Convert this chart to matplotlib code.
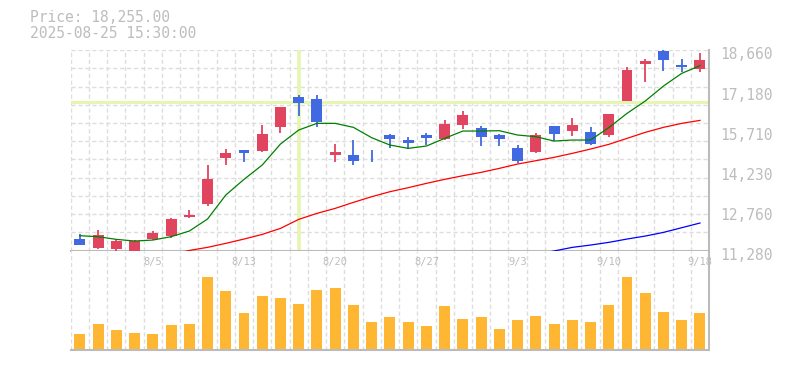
import numpy as np
import matplotlib
matplotlib.use("Agg")
import matplotlib.pyplot as plt
import matplotlib.transforms as mtransforms

# daily OHLC, index 0 = 7/30
opens = [11709, 11390, 11341, 11200, 11709, 11832, 12530, 12996, 14700, 14982,
         14958, 15840, 16931, 16858, 14811, 14798, 14921, 15534, 15350, 15534,
         15387, 15914, 15791, 15534, 15068, 14921, 15865, 15669, 15644, 15546,
         16784, 18157, 18635, 18121, 17973]
highs = [11880, 12040, 11697, 11672, 12003, 12470, 12776, 14431, 15019, 14990,
         15902, 16570, 17005, 17005, 15203, 15350, 14982, 15571, 15448, 15608,
         16086, 16417, 15865, 15571, 15154, 15608, 15870, 16159, 15828, 16310,
         18023, 18329, 18660, 18329, 18562]
lows = [11480, 11341, 11280, 11150, 11672, 11758, 12494, 12935, 14431, 14553,
        14921, 15620, 16245, 15816, 14553, 14443, 14553, 15068, 15007, 15166,
        15350, 15767, 15129, 15129, 14516, 14884, 15326, 15509, 15154, 15473,
        16784, 17495, 17900, 17851, 17851]
closes = [11500, 11856, 11636, 11636, 11942, 12445, 12604, 13916, 14872, 14884,
          15571, 16564, 16723, 16024, 14909, 14590, 14900, 15399, 15252, 15436,
          15939, 16269, 15473, 15399, 14590, 15534, 15558, 15902, 15191, 16306,
          17924, 18255, 18292, 18047, 18292]

ma_short = [11832, 11795, 11697, 11636, 11672, 11795, 12003, 12445, 13327, 13904,
            14431, 15203, 15718, 15963, 15963, 15816, 15436, 15166, 15044, 15129,
            15411, 15681, 15681, 15693, 15534, 15473, 15313, 15350, 15350, 15804,
            16331, 16784, 17336, 17802, 18084]
ma_mid = [np.nan, np.nan, np.nan, np.nan, np.nan, 11130, 11290, 11403, 11550, 11709,
          11880, 12101, 12432, 12653, 12837, 13058, 13266, 13450, 13597, 13756,
          13904, 14038, 14161, 14308, 14467, 14590, 14713, 14860, 15019, 15191,
          15411, 15632, 15816, 15963, 16073]
ma_long = [np.nan] * 25 + [11130, 11270, 11403, 11488, 11587, 11709, 11819, 11954,
                           12126, 12298]

volumes = [16, 26, 20, 17, 16, 25, 26, 73, 59, 37, 54, 52, 46, 60, 62, 45, 28, 33,
           28, 24, 44, 31, 33, 21, 30, 34, 26, 30, 28, 45, 73, 57, 38, 30, 37]

date_labels = {4: "8/5", 9: "8/13", 14: "8/20", 19: "8/27", 24: "9/3",
               29: "9/10", 34: "9/18"}
price_ticks = [11280, 12760, 14230, 15710, 17180, 18660]
cross_x = 12
cross_price = 16735

UP = "#e0445f"
DOWN = "#4169e1"
GRID = "#dddddd"
FRAME = "#bbbbbb"
TXT = "#bdbdbd"
CROSS = "#e6f5b0"
MONO = "DejaVu Sans Mono"

fig = plt.figure(figsize=(7.85, 3.7), dpi=100)
ax = fig.add_axes([0.0901, 0.3224, 0.8132, 0.5424])
axv = fig.add_axes([0.0901, 0.054, 0.8132, 0.2684])

n = len(opens)
x = np.arange(n)

for a in (ax, axv):
    a.set_xlim(-0.5, n - 0.5)
    for xb in np.arange(-0.5, n - 0.5, 1.0):
        a.axvline(xb, color=GRID, lw=1, ls=(0, (3, 2)), zorder=0)
    for s in ("left", "top"):
        a.spines[s].set_visible(False)
    for s in ("right", "bottom"):
        a.spines[s].set_color(FRAME)
        a.spines[s].set_linewidth(1.5)
    a.set_xticks([])

# price panel
ax.set_ylim(11280, 18660)
for yg in np.linspace(11280, 18660, 12):
    ax.axhline(yg, color=GRID, lw=1, ls=(0, (3, 2)), zorder=0)

ax.axvline(cross_x, color=CROSS, lw=2.6, zorder=1)
ax.axhline(cross_price, color=CROSS, lw=2.2, zorder=1)

for i in range(n):
    o, h, l, c = opens[i], highs[i], lows[i], closes[i]
    col = UP if c > o else DOWN
    ax.vlines(i, l, h, color=col, lw=1.3, zorder=3)
    bottom = min(o, c)
    height = max(abs(c - o), 25)
    ax.bar(i, height, bottom=bottom, width=0.6, color=col, zorder=3)

ax.plot(x, ma_short, color="#008000", lw=0.9, zorder=4)
ax.plot(x, ma_mid, color="#ff0000", lw=0.9, zorder=4)
ax.plot(x, ma_long, color="#0000ff", lw=0.9, zorder=4)

ax.yaxis.tick_right()
ax.set_yticks(price_ticks)
ax.set_yticklabels([f"{v:,}" for v in price_ticks])
ax.tick_params(axis="y", length=0, pad=8, labelsize=10.5, labelcolor=TXT)
for lab in ax.get_yticklabels():
    lab.set_fontfamily(MONO)
    lab.set_transform(lab.get_transform() + mtransforms.ScaledTranslation(0, -2.5 / 72, fig.dpi_scale_trans))

# volume panel
axv.set_ylim(0, 99)
axv.set_yticks([])
axv.bar(x, volumes, width=0.6, color="#ffb733", zorder=2)
for i, lab in date_labels.items():
    axv.text(i, 0.885, lab, transform=axv.get_xaxis_transform(), ha="center",
             va="center", fontsize=7.5, color=TXT, family=MONO)

fig.text(30 / 785, 1 - 18 / 370, "Price: 18,255.00", ha="left", va="center",
         fontsize=10.5, color=TXT, family=MONO)
fig.text(30 / 785, 1 - 33 / 370, "2025-08-25 15:30:00", ha="left", va="center",
         fontsize=10.5, color=TXT, family=MONO)

fig.savefig("out.png", dpi=100)
